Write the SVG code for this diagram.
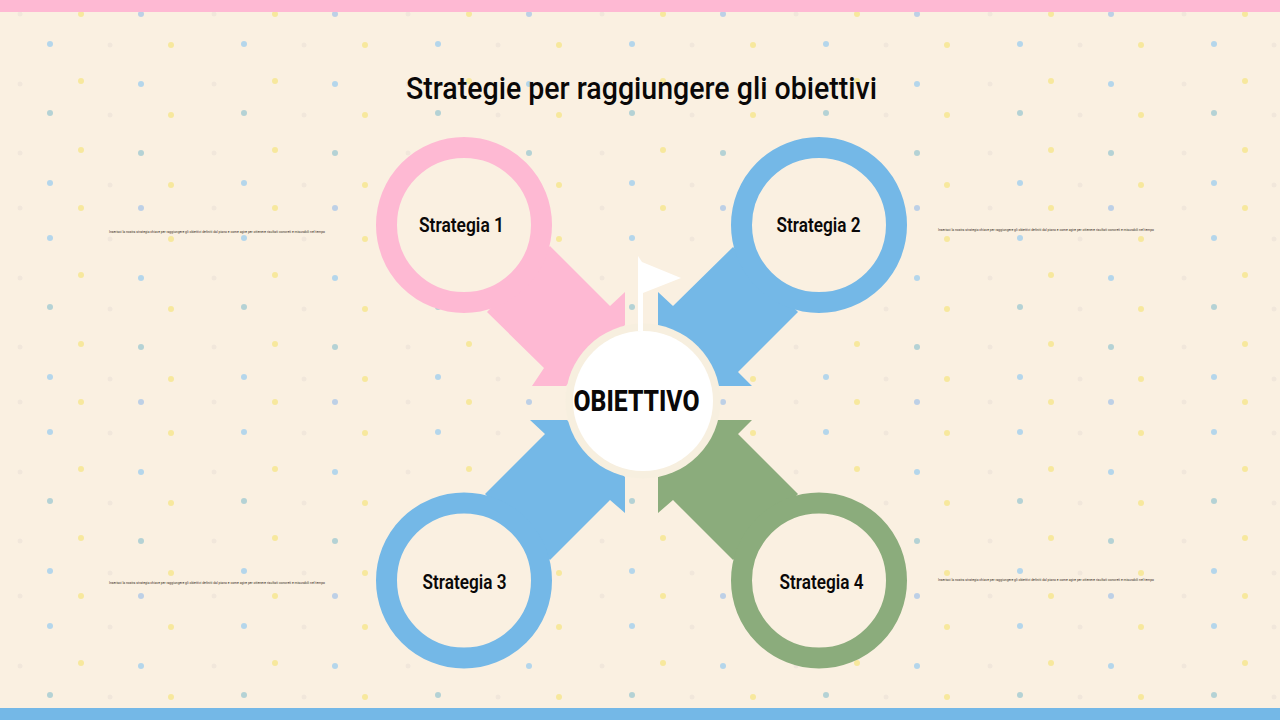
<svg xmlns="http://www.w3.org/2000/svg" width="1280" height="720" viewBox="0 0 1280 720">
<style>
text{font-family:"Roboto","Inter","Liberation Sans",sans-serif;fill:#0a0808;text-anchor:middle}
.lbl{font-size:20px;font-weight:600}
.tiny{font-size:3px;fill:#3a3028}
.bg{fill:#faf0e1}
.y{fill:#f6e68c}.b1{fill:#a2d0ee}.b2{fill:#a2cbd2}.b3{fill:#aec8e8}.f{fill:#efe5da}
</style>
<defs>
<pattern id="dots" width="194" height="194" patternUnits="userSpaceOnUse">
<g opacity="0.8">
<circle class="b1" cx="50" cy="44" r="3"/><circle class="f" cx="110" cy="45" r="2.500"/><circle class="y" cx="171" cy="45" r="3"/>
<circle class="f" cx="20" cy="14" r="2.500"/><circle class="y" cx="81" cy="14" r="3"/><circle class="b3" cx="141" cy="14" r="3"/>
<circle class="f" cx="20" cy="84" r="2.500"/><circle class="y" cx="81" cy="81" r="3"/><circle class="b1" cx="141" cy="84" r="3"/>
<circle class="b2" cx="50" cy="113" r="3"/><circle class="f" cx="110" cy="115" r="2.500"/><circle class="y" cx="171" cy="115" r="3"/>
<circle class="f" cx="20" cy="153" r="2.500"/><circle class="y" cx="81" cy="150" r="3"/><circle class="b2" cx="141" cy="153" r="3"/>
<circle class="b1" cx="50" cy="183" r="3"/><circle class="f" cx="110" cy="185" r="2.500"/><circle class="y" cx="171" cy="185" r="3"/>
</g>
</pattern>
</defs>
<rect width="1280" height="720" class="bg"/>
<rect width="1280" height="720" fill="url(#dots)"/>
<rect id="bar-top" width="1280" height="12" fill="#feb9d3"/>
<rect id="bar-bottom" y="708" width="1280" height="12" fill="#74b8e7"/>
<text x="641.500" y="99" font-size="32" font-weight="500" textLength="471" lengthAdjust="spacingAndGlyphs">Strategie per raggiungere gli obiettivi</text>
<g id="connectors">
<path fill="#feb9d3" d="M550 246L610 306L625 292V325L566 386H532L544 368L487 312Z"/>
<path fill="#74b8e7" d="M733 247L673 306L658 292V326L718 386H752L738 372L798 312Z"/>
<path fill="#74b8e7" d="M485 494L545 434L530 420H567L625 477V513L610 500L550 560Z"/>
<path fill="#8bac7c" d="M798 494L738 434L752 420H717L658 477V513L673 500L733 560Z"/>
</g>
<g id="strategia-1"><circle cx="464" cy="225" r="77.500" class="bg" stroke="#feb9d3" stroke-width="21"/><text class="lbl" x="461.500" y="232" textLength="85" lengthAdjust="spacingAndGlyphs">Strategia 1</text></g>
<g id="strategia-2"><circle cx="819" cy="225" r="77.500" class="bg" stroke="#74b8e7" stroke-width="21"/><text class="lbl" x="818.500" y="232" textLength="84" lengthAdjust="spacingAndGlyphs">Strategia 2</text></g>
<g id="strategia-3"><circle cx="464" cy="580.500" r="77.500" class="bg" stroke="#74b8e7" stroke-width="21"/><text class="lbl" x="464.500" y="589" textLength="84" lengthAdjust="spacingAndGlyphs">Strategia 3</text></g>
<g id="strategia-4"><circle cx="819" cy="580.500" r="77.500" class="bg" stroke="#8bac7c" stroke-width="21"/><text class="lbl" x="821.500" y="589" textLength="84" lengthAdjust="spacingAndGlyphs">Strategia 4</text></g>
<g id="obiettivo">
<circle cx="643" cy="401" r="77.500" fill="#f7efdf"/>
<circle cx="643" cy="401" r="70" fill="#fff"/>
<path fill="#fff" d="M638 331V256L642 262L681 278L643 293V331Z"/>
<text x="636.500" y="411" font-size="29" font-weight="800" textLength="126" lengthAdjust="spacingAndGlyphs">OBIETTIVO</text>
</g>
<g id="descriptions">
<text class="tiny" x="217" y="233" textLength="216" lengthAdjust="spacingAndGlyphs">Inserisci la nostra strategia chiave per raggiungere gli obiettivi definiti dal piano e come agire per ottenere risultati concreti e misurabili nel tempo</text>
<text class="tiny" x="1046" y="231" textLength="216" lengthAdjust="spacingAndGlyphs">Inserisci la nostra strategia chiave per raggiungere gli obiettivi definiti dal piano e come agire per ottenere risultati concreti e misurabili nel tempo</text>
<text class="tiny" x="217" y="584" textLength="216" lengthAdjust="spacingAndGlyphs">Inserisci la nostra strategia chiave per raggiungere gli obiettivi definiti dal piano e come agire per ottenere risultati concreti e misurabili nel tempo</text>
<text class="tiny" x="1046" y="581" textLength="216" lengthAdjust="spacingAndGlyphs">Inserisci la nostra strategia chiave per raggiungere gli obiettivi definiti dal piano e come agire per ottenere risultati concreti e misurabili nel tempo</text>
</g>
</svg>
